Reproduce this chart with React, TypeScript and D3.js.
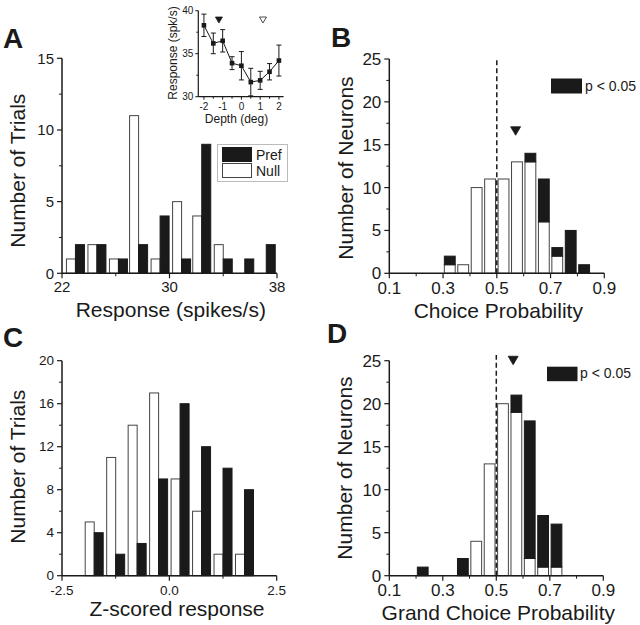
import React, { useEffect, useRef } from 'react';
import * as d3 from 'd3';

const FONT = '"Liberation Sans", Arial, sans-serif';
const INK = '#1a1a1a';

// Panel A: response histogram (bin centers in spikes/s)
const aCenters = [23.0, 24.6, 26.2, 27.7, 29.3, 30.9, 32.4, 34.0, 35.6, 37.2];
const aNull = [1, 2, 1, 11, 1, 5, 4, 2, 0, 0];
const aPref = [2, 2, 1, 2, 4, 1, 9, 1, 1, 2];

// Panel A inset: tuning curve
const insetDepth = [-2, -1.5, -1, -0.5, 0, 0.5, 1, 1.5, 2];
const insetMean = [38.3, 36.2, 36.5, 33.9, 33.6, 31.7, 31.9, 32.9, 34.2];
const insetErr = [1.3, 1.2, 1.3, 0.75, 1.65, 1.6, 1.05, 0.95, 1.8];
const insetPrefDepth = -1.2;
const insetNullDepth = 1.15;

// Panel B: choice probability (bin lower edges, width 0.05)
const bEdges = [0.30, 0.35, 0.40, 0.45, 0.50, 0.55, 0.60, 0.65, 0.70, 0.75, 0.80];
const bNonSig = [1, 1, 10, 11, 11, 13, 13, 6, 2, 0, 0];
const bSig = [1, 0, 0, 0, 0, 0, 1, 5, 1, 5, 1];
const bMean = 0.57;

// Panel C: z-scored response
const cCenters = [-1.75, -1.25, -0.75, -0.25, 0.25, 0.75, 1.25, 1.75];
const cNull = [5, 11, 14, 17, 9, 6, 2, 2];
const cPref = [4, 2, 3, 9, 16, 12, 10, 8];

// Panel D: grand choice probability
const dEdges = [0.20, 0.25, 0.30, 0.35, 0.40, 0.45, 0.50, 0.55, 0.60, 0.65, 0.70];
const dNonSig = [0, 0, 0, 0, 4, 13, 20, 19, 2, 1, 1];
const dSig = [1, 0, 0, 2, 0, 0, 0, 2, 16, 6, 5];
const dMean = 0.563;

type Sel = d3.Selection<SVGGElement, unknown, null, undefined>;

interface AxisSpec {
    x: d3.ScaleLinear<number, number>;
    y: d3.ScaleLinear<number, number>;
    xTicks: number[];
    xMinor: number[];
    xFmt: (v: number) => string;
    yTicks: number[];
    yMinor: number[];
    tickFont: number;
    xTickDy: number;
}

function drawAxes(g: Sel, s: AxisSpec) {
    const [x0, x1] = s.x.range();
    const [y0, y1] = s.y.range();
    g.append('line').attr('x1', x0).attr('x2', x1).attr('y1', y0).attr('y2', y0)
        .attr('stroke', INK).attr('stroke-width', 1.5);
    g.append('line').attr('x1', x0).attr('x2', x0).attr('y1', y0).attr('y2', y1)
        .attr('stroke', INK).attr('stroke-width', 1.5);

    s.xTicks.forEach(v => {
        g.append('line').attr('x1', s.x(v)).attr('x2', s.x(v)).attr('y1', y0).attr('y2', y0 + 5)
            .attr('stroke', INK).attr('stroke-width', 1.2);
        g.append('text').attr('x', s.x(v)).attr('y', y0 + s.xTickDy)
            .attr('text-anchor', 'middle').attr('font-size', s.tickFont).text(s.xFmt(v));
    });
    s.xMinor.forEach(v => {
        g.append('line').attr('x1', s.x(v)).attr('x2', s.x(v)).attr('y1', y0).attr('y2', y0 + 3)
            .attr('stroke', INK).attr('stroke-width', 1);
    });
    s.yTicks.forEach(v => {
        g.append('line').attr('x1', x0 - 5).attr('x2', x0).attr('y1', s.y(v)).attr('y2', s.y(v))
            .attr('stroke', INK).attr('stroke-width', 1.2);
        g.append('text').attr('x', x0 - 8).attr('y', s.y(v)).attr('dy', '0.35em')
            .attr('text-anchor', 'end').attr('font-size', s.tickFont).text(String(v));
    });
    s.yMinor.forEach(v => {
        g.append('line').attr('x1', x0 - 3).attr('x2', x0).attr('y1', s.y(v)).attr('y2', s.y(v))
            .attr('stroke', INK).attr('stroke-width', 1);
    });
}

function axisLabels(g: Sel, xText: string, xc: number, xb: number, yText: string, yb: number, yc: number) {
    g.append('text').attr('x', xc).attr('y', xb).attr('text-anchor', 'middle')
        .attr('font-size', 21).text(xText);
    g.append('text').attr('transform', `translate(${yb},${yc}) rotate(-90)`)
        .attr('text-anchor', 'middle').attr('font-size', 21).text(yText);
}

function panelLetter(g: Sel, t: string, x: number, y: number) {
    g.append('text').attr('x', x).attr('y', y).attr('font-size', 28).attr('font-weight', 'bold').text(t);
}

function pairedBars(g: Sel, x: d3.ScaleLinear<number, number>, y: d3.ScaleLinear<number, number>,
    centers: number[], nulls: number[], prefs: number[], w: number) {
    centers.forEach((c, i) => {
        const cx = x(c);
        if (nulls[i] > 0) {
            g.append('rect').attr('x', cx - w).attr('y', y(nulls[i])).attr('width', w)
                .attr('height', y(0) - y(nulls[i])).attr('fill', '#fff').attr('stroke', '#444').attr('stroke-width', 1);
        }
        if (prefs[i] > 0) {
            g.append('rect').attr('x', cx).attr('y', y(prefs[i])).attr('width', w)
                .attr('height', y(0) - y(prefs[i])).attr('fill', INK).attr('stroke', INK).attr('stroke-width', 1);
        }
    });
}

function stackedBars(g: Sel, x: d3.ScaleLinear<number, number>, y: d3.ScaleLinear<number, number>,
    edges: number[], lower: number[], upper: number[]) {
    edges.forEach((e, i) => {
        const left = x(e) + 1.3;
        const w = x(e + 0.05) - x(e) - 2.6;
        if (lower[i] > 0) {
            g.append('rect').attr('x', left).attr('y', y(lower[i])).attr('width', w)
                .attr('height', y(0) - y(lower[i])).attr('fill', '#fff').attr('stroke', '#444').attr('stroke-width', 1);
        }
        if (upper[i] > 0) {
            const top = lower[i] + upper[i];
            g.append('rect').attr('x', left).attr('y', y(top)).attr('width', w)
                .attr('height', y(lower[i]) - y(top)).attr('fill', INK).attr('stroke', INK).attr('stroke-width', 1);
        }
    });
}

function triangle(g: Sel, cx: number, cy: number, size: number, filled: boolean) {
    const h = size * 0.85;
    g.append('path')
        .attr('d', `M${cx - size / 2},${cy - h / 2}L${cx + size / 2},${cy - h / 2}L${cx},${cy + h / 2}Z`)
        .attr('fill', filled ? INK : '#fff').attr('stroke', INK).attr('stroke-width', 0.8);
}

const App = () => {
    const svgRef = useRef<SVGSVGElement>(null);

    useEffect(() => {
        if (!svgRef.current) return;
        const svg = d3.select(svgRef.current);
        svg.selectAll('*').remove();
        const root = svg.append('g').attr('font-family', FONT).attr('fill', INK) as unknown as Sel;

        const fmt1 = (v: number) => v.toFixed(1);

        // ---- Panel A ----
        const ax = d3.scaleLinear().domain([22, 38]).range([62, 277]);
        const ay = d3.scaleLinear().domain([0, 15]).range([273.3, 58.3]);
        const gA = root.append('g') as unknown as Sel;
        pairedBars(gA, ax, ay, aCenters, aNull, aPref, 9);
        drawAxes(gA, {
            x: ax, y: ay, xTicks: [22, 30, 38], xMinor: [26, 34], xFmt: v => String(v),
            yTicks: [0, 5, 10, 15], yMinor: [2.5, 7.5, 12.5], tickFont: 15, xTickDy: 18.5
        });
        axisLabels(gA, 'Response (spikes/s)', 170.8, 316.7, 'Number of Trials', 25, 170.7);
        panelLetter(gA, 'A', 3, 48);

        // legend A
        gA.append('rect').attr('x', 217.5).attr('y', 144.5).attr('width', 70).attr('height', 37)
            .attr('fill', '#fff').attr('stroke', '#bbb').attr('stroke-width', 1);
        gA.append('rect').attr('x', 222).attr('y', 147).attr('width', 30).attr('height', 15).attr('fill', INK);
        gA.append('rect').attr('x', 222.5).attr('y', 163.5).attr('width', 29).attr('height', 14)
            .attr('fill', '#fff').attr('stroke', '#444');
        gA.append('text').attr('x', 256).attr('y', 159.5).attr('font-size', 14).text('Pref');
        gA.append('text').attr('x', 256).attr('y', 176).attr('font-size', 14).text('Null');

        // inset
        const ix = d3.scaleLinear().domain([-2.3, 2.25]).range([198.3, 283.6]);
        const iy = d3.scaleLinear().domain([30, 40]).range([96.7, 10.7]);
        const gI = root.append('g') as unknown as Sel;
        gI.append('line').attr('x1', ix.range()[0]).attr('x2', ix.range()[1]).attr('y1', iy(30)).attr('y2', iy(30))
            .attr('stroke', INK).attr('stroke-width', 1.2);
        gI.append('line').attr('x1', ix.range()[0]).attr('x2', ix.range()[0]).attr('y1', iy(30)).attr('y2', iy(40))
            .attr('stroke', INK).attr('stroke-width', 1.2);
        [-2, -1, 0, 1, 2].forEach(v => {
            gI.append('line').attr('x1', ix(v)).attr('x2', ix(v)).attr('y1', iy(30)).attr('y2', iy(30) + 3)
                .attr('stroke', INK);
            gI.append('text').attr('x', ix(v)).attr('y', 110).attr('text-anchor', 'middle')
                .attr('font-size', 10).text(String(v));
        });
        [-1.5, -0.5, 0.5, 1.5].forEach(v => {
            gI.append('line').attr('x1', ix(v)).attr('x2', ix(v)).attr('y1', iy(30)).attr('y2', iy(30) + 2)
                .attr('stroke', INK);
        });
        [30, 35, 40].forEach(v => {
            gI.append('line').attr('x1', ix.range()[0] - 3).attr('x2', ix.range()[0]).attr('y1', iy(v)).attr('y2', iy(v))
                .attr('stroke', INK);
            gI.append('text').attr('x', ix.range()[0] - 5).attr('y', iy(v)).attr('dy', '0.35em')
                .attr('text-anchor', 'end').attr('font-size', 10).text(String(v));
        });
        [32.5, 37.5].forEach(v => {
            gI.append('line').attr('x1', ix.range()[0] - 2).attr('x2', ix.range()[0]).attr('y1', iy(v)).attr('y2', iy(v))
                .attr('stroke', INK);
        });
        const line = d3.line<number>().x((_, i) => ix(insetDepth[i])).y(d => iy(d));
        gI.append('path').attr('d', line(insetMean)).attr('fill', 'none').attr('stroke', INK).attr('stroke-width', 1);
        insetMean.forEach((m, i) => {
            const cx = ix(insetDepth[i]);
            const lo = iy(m - insetErr[i]);
            const hi = iy(m + insetErr[i]);
            gI.append('line').attr('x1', cx).attr('x2', cx).attr('y1', lo).attr('y2', hi).attr('stroke', INK);
            gI.append('line').attr('x1', cx - 2.5).attr('x2', cx + 2.5).attr('y1', lo).attr('y2', lo).attr('stroke', INK);
            gI.append('line').attr('x1', cx - 2.5).attr('x2', cx + 2.5).attr('y1', hi).attr('y2', hi).attr('stroke', INK);
            gI.append('rect').attr('x', cx - 2.3).attr('y', iy(m) - 2.3).attr('width', 4.6).attr('height', 4.6).attr('fill', INK);
        });
        triangle(gI, ix(insetPrefDepth), 20, 7, true);
        triangle(gI, ix(insetNullDepth), 20, 7, false);
        gI.append('text').attr('x', 236.5).attr('y', 123).attr('text-anchor', 'middle')
            .attr('font-size', 12).text('Depth (deg)');
        gI.append('text').attr('transform', 'translate(177,53) rotate(-90)')
            .attr('text-anchor', 'middle').attr('font-size', 12).text('Response (spk/s)');

        // ---- Panel B ----
        const bx = d3.scaleLinear().domain([0.1, 0.9]).range([389.3, 604.3]);
        const by = d3.scaleLinear().domain([0, 25]).range([273.3, 59]);
        const gB = root.append('g') as unknown as Sel;
        stackedBars(gB, bx, by, bEdges, bNonSig, bSig);
        gB.append('line').attr('x1', bx(0.5)).attr('x2', bx(0.5)).attr('y1', by(0)).attr('y2', 58)
            .attr('stroke', INK).attr('stroke-width', 1.5).attr('stroke-dasharray', '5,3');
        drawAxes(gB, {
            x: bx, y: by, xTicks: [0.1, 0.3, 0.5, 0.7, 0.9], xMinor: [0.2, 0.4, 0.6, 0.8], xFmt: fmt1,
            yTicks: [0, 5, 10, 15, 20, 25], yMinor: [2.5, 7.5, 12.5, 17.5, 22.5], tickFont: 17, xTickDy: 20.3
        });
        triangle(gB, bx(bMean), 131, 10, true);
        gB.append('rect').attr('x', 551).attr('y', 78.5).attr('width', 31).attr('height', 15).attr('fill', INK);
        gB.append('text').attr('x', 585).attr('y', 90.7).attr('font-size', 14).text('p < 0.05');
        axisLabels(gB, 'Choice Probability', 498.3, 317.5, 'Number of Neurons', 353, 168);
        panelLetter(gB, 'B', 331, 47);

        // ---- Panel C ----
        const cx = d3.scaleLinear().domain([-2.5, 2.5]).range([62, 276.7]);
        const cy = d3.scaleLinear().domain([0, 20]).range([575.7, 360.7]);
        const gC = root.append('g') as unknown as Sel;
        pairedBars(gC, cx, cy, cCenters, cNull, cPref, 9);
        drawAxes(gC, {
            x: cx, y: cy, xTicks: [-2.5, 0, 2.5], xMinor: [-1.25, 1.25], xFmt: fmt1,
            yTicks: [0, 4, 8, 12, 16, 20], yMinor: [2, 6, 10, 14, 18], tickFont: 13.5, xTickDy: 19.5
        });
        axisLabels(gC, 'Z-scored response', 177, 616, 'Number of Trials', 25, 466.7);
        panelLetter(gC, 'C', 3, 347);

        // ---- Panel D ----
        const dx = d3.scaleLinear().domain([0.1, 0.9]).range([389.3, 603.3]);
        const dy = d3.scaleLinear().domain([0, 25]).range([575.7, 360.7]);
        const gD = root.append('g') as unknown as Sel;
        stackedBars(gD, dx, dy, dEdges, dNonSig, dSig);
        gD.append('line').attr('x1', dx(0.5)).attr('x2', dx(0.5)).attr('y1', dy(0)).attr('y2', 355)
            .attr('stroke', INK).attr('stroke-width', 1.5).attr('stroke-dasharray', '5,3');
        drawAxes(gD, {
            x: dx, y: dy, xTicks: [0.1, 0.3, 0.5, 0.7, 0.9], xMinor: [0.2, 0.4, 0.6, 0.8], xFmt: fmt1,
            yTicks: [0, 5, 10, 15, 20, 25], yMinor: [2.5, 7.5, 12.5, 17.5, 22.5], tickFont: 17, xTickDy: 20.3
        });
        triangle(gD, dx(dMean), 360.5, 10, true);
        gD.append('rect').attr('x', 547).attr('y', 366.7).attr('width', 30.5).attr('height', 14.5).attr('fill', INK);
        gD.append('text').attr('x', 580).attr('y', 378.3).attr('font-size', 14).text('p < 0.05');
        axisLabels(gD, 'Grand Choice Probability', 498.3, 619.5, 'Number of Neurons', 352, 468);
        panelLetter(gD, 'D', 327, 343);
    }, []);

    return (
        <svg
            ref={svgRef}
            width={640}
            height={625}
            style={{ position: 'absolute', left: 0, top: 0, background: '#fff' }}
        />
    );
};

export default App;
